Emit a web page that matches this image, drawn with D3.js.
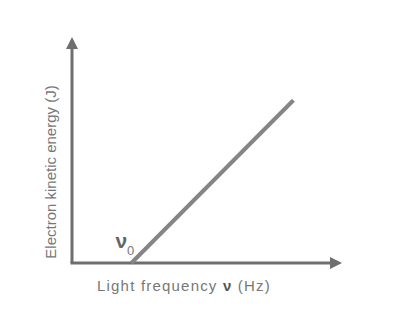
<!DOCTYPE html>
<html>
<head>
<meta charset="utf-8">
<script src="https://cdn.jsdelivr.net/npm/d3@7"></script>
<style>
  body { margin: 0; background: #fff; }
  text { font-family: "Liberation Sans", Arial, sans-serif; fill: #777; }
</style>
</head>
<body>
<svg id="chart" width="396" height="322"></svg>
<script>
// line points (frequency, kinetic energy), arbitrary units
const frequency = [22, 82];
const energy = [0, 72];
const xLabel = "Light frequency ";
const yLabel = "Electron kinetic energy (J)";

const svg = d3.select("#chart");

const x = d3.scaleLinear().domain([0, 100]).range([72, 342]);
const y = d3.scaleLinear().domain([0, 100]).range([263, 37]);

const axisColor = "#6f6f6f";

//axes as lines with arrowheads
svg.append("line")
    .attr("x1", x(0)).attr("y1", y(0))
    .attr("x2", x(0)).attr("y2", y(100) + 10)
    .attr("stroke", axisColor).attr("stroke-width", 3);
svg.append("path")
    .attr("d", `M${x(0)},${y(100)} L${x(0) - 6},${y(100) + 12} L${x(0) + 6},${y(100) + 12} Z`)
    .attr("fill", axisColor);

svg.append("line")
    .attr("x1", x(0) - 1.5).attr("y1", y(0))
    .attr("x2", x(100) - 10).attr("y2", y(0))
    .attr("stroke", axisColor).attr("stroke-width", 3);
svg.append("path")
    .attr("d", `M${x(100)},${y(0)} L${x(100) - 12},${y(0) - 6} L${x(100) - 12},${y(0) + 6} Z`)
    .attr("fill", axisColor);

//data line
const line = d3.line()
    .x((d, i) => x(frequency[i]))
    .y((d, i) => y(energy[i]));

svg.append("path")
    .datum(frequency)
    .attr("d", line)
    .attr("fill", "none")
    .attr("stroke", "#858585")
    .attr("stroke-width", 4);

//threshold label
const nu0 = svg.append("text")
    .attr("x", x(frequency[0]) - 16)
    .attr("y", y(0) - 15)
    .style("font-size", "21px")
    .style("font-weight", "bold")
    .style("fill", "#666");
nu0.append("tspan").text("ν");
nu0.append("tspan")
    .attr("dy", 7)
    .style("font-size", "13px")
    .style("font-weight", "normal")
    .style("fill", "#777")
    .text("0");

//axis titles
const xt = svg.append("text")
    .attr("x", 184)
    .attr("y", 291)
    .attr("text-anchor", "middle")
    .style("font-size", "15px")
    .style("letter-spacing", "1.2px");
xt.append("tspan").text(xLabel);
xt.append("tspan").style("font-weight", "bold").style("fill", "#555").text("ν");
xt.append("tspan").text(" (Hz)");

svg.append("text")
    .attr("transform", "translate(56,172) rotate(-90)")
    .attr("text-anchor", "middle")
    .style("font-size", "15px")
    .text(yLabel);
</script>
</body>
</html>
